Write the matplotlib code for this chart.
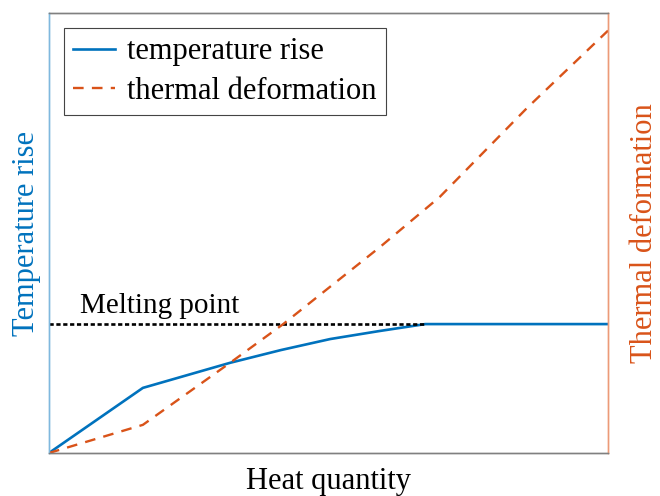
import numpy as np
import matplotlib
matplotlib.use("Agg")
import matplotlib.pyplot as plt

plt.rcParams['font.family'] = ['Liberation Serif', 'DejaVu Serif']

# heat quantity vs temperature rise / thermal deformation (normalised)
x_temp = [0.0, 0.168, 0.324, 0.415, 0.503, 0.59, 0.673, 1.0]
y_temp = [0.0, 0.148, 0.205, 0.234, 0.259, 0.277, 0.293, 0.293]

x_def = [0.0, 0.168, 0.324, 0.419, 0.592, 0.699, 0.855, 1.0]
y_def = [0.0, 0.064, 0.205, 0.293, 0.468, 0.582, 0.784, 0.96]

melt_x = [0.0, 0.673]
melt_y = 0.293

c_blue = '#0072BD'
c_orange = '#D95319'

fig = plt.figure(figsize=(6.6, 4.96), dpi=100)
ax = fig.add_axes([0.0742, 0.0867, 0.847, 0.887])
ax2 = ax.twinx()

l1, = ax.plot(x_temp, y_temp, color=c_blue, lw=1.9, label='temperature rise')
ax.plot(melt_x, [melt_y, melt_y], color='black', lw=1.9, ls=(0, (1.6, 1.0)))
ax.text(0.055, melt_y + 0.012, 'Melting point', fontsize=21, ha='left', va='bottom')

l2, = ax2.plot(x_def, y_def, color=c_orange, lw=1.7, ls=(0, (4.5, 3.5)), label='thermal deformation')

for a in (ax, ax2):
    a.set_xlim(0, 1)
    a.set_ylim(0, 1)
    a.set_xticks([])
    a.set_yticks([])
    for s in ('top', 'bottom'):
        a.spines[s].set_color('#808080')
        a.spines[s].set_linewidth(1.0)
    a.spines['left'].set_color('#7fb8de')
    a.spines['right'].set_color('#ec9a78')
    a.spines['left'].set_linewidth(1.0)
    a.spines['right'].set_linewidth(1.0)

ax.set_xlabel('Heat quantity', fontsize=22, labelpad=10)
ax.set_ylabel('Temperature rise', fontsize=22, color=c_blue, labelpad=6)
ax2.set_ylabel('Thermal deformation', fontsize=22, color=c_orange, labelpad=16)

leg = ax.legend(handles=[l1, l2], loc='upper left', fontsize=22, fancybox=False,
                edgecolor='#444444', framealpha=1, handlelength=1.35,
                borderaxespad=0.5, borderpad=0.3, labelspacing=0.35, handletextpad=0.4)
leg.get_frame().set_linewidth(0.8)

fig.savefig('out.png', dpi=100)
